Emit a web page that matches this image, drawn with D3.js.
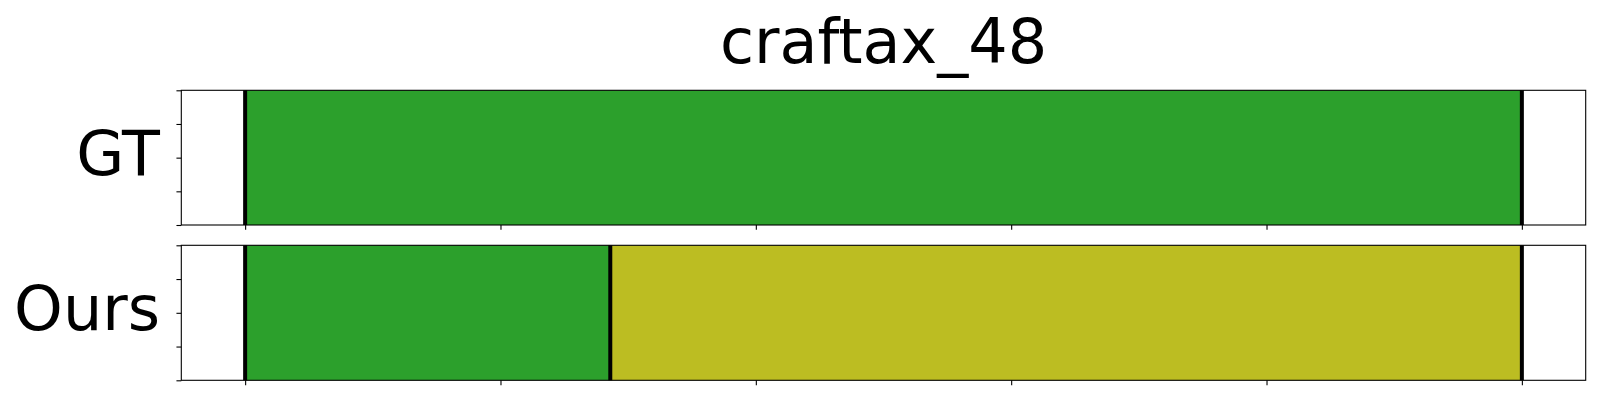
<!DOCTYPE html>
<html>
<head>
<meta charset="utf-8">
<script src="https://cdn.jsdelivr.net/npm/d3@7"></script>
<style>
  html, body { margin: 0; padding: 0; background: #fff; }
  svg { display: block; }
  text { font-family: "DejaVu Sans", sans-serif; }
</style>
</head>
<body>
<svg id="chart" width="1600" height="400"></svg>
<script>
// ---- data ----
const title = "craftax_48";
const rowLabels = ["GT", "Ours"];
// normalized segment boundaries along the episode (0..1)
const gtBounds = [0, 1];
const gtColors = ["#2ca02c"];
const oursBounds = [0, 0.286, 1];
const oursColors = ["#2ca02c", "#bcbd22"];
const xTickValues = [0, 0.2, 0.4, 0.6, 0.8, 1.0];
const yTickValues = [0, 0.25, 0.5, 0.75, 1.0];

const rows = [
  { label: rowLabels[0], bounds: gtBounds, colors: gtColors },
  { label: rowLabels[1], bounds: oursBounds, colors: oursColors }
];

const svg = d3.select("#chart");
const left = 181.3, right = 1585.7;
const panels = [ { top: 90.3, bottom: 225 }, { top: 245.3, bottom: 380.3 } ];

const x = d3.scaleLinear().domain([-0.05, 1.05]).range([left, right]);

svg.append("text")
  .attr("x", (left + right) / 2)
  .attr("y", 63)
  .attr("text-anchor", "middle")
  .attr("font-size", "62px")
  .attr("fill", "#000")
  .text(title);

rows.forEach((row, i) => {
  const p = panels[i];
  const y = d3.scaleLinear().domain([0, 1]).range([p.bottom, p.top]);
  const g = svg.append("g");

  const segs = row.colors.map((c, k) => ({ s: row.bounds[k], e: row.bounds[k + 1], c }));
  g.selectAll("rect.seg").data(segs).enter().append("rect")
    .attr("class", "seg")
    .attr("x", d => x(d.s))
    .attr("width", d => x(d.e) - x(d.s))
    .attr("y", y(1))
    .attr("height", y(0) - y(1))
    .attr("fill", d => d.c);

  g.selectAll("line.bnd").data(row.bounds).enter().append("line")
    .attr("class", "bnd")
    .attr("x1", d => x(d)).attr("x2", d => x(d))
    .attr("y1", y(1)).attr("y2", y(0))
    .attr("stroke", "#000")
    .attr("stroke-width", 4);

  // axes
  const xAxis = d3.axisBottom(x).tickValues(xTickValues).tickFormat("").tickSize(4.86).tickSizeOuter(0);
  const ax = g.append("g").attr("transform", `translate(0,${p.bottom})`).call(xAxis);
  const yAxis = d3.axisLeft(y).tickValues(yTickValues).tickFormat("").tickSize(4.86).tickSizeOuter(0);
  const ay = g.append("g").attr("transform", `translate(${left},0)`).call(yAxis);
  [ax, ay].forEach(a => {
    a.select(".domain").remove();
    a.selectAll(".tick line").attr("stroke", "#000").attr("stroke-width", 1.1);
  });

  // spines
  g.append("rect")
    .attr("x", left).attr("y", p.top)
    .attr("width", right - left).attr("height", p.bottom - p.top)
    .attr("fill", "none").attr("stroke", "#000").attr("stroke-width", 1.1);

  g.append("text")
    .attr("x", 160)
    .attr("y", (p.top + p.bottom) / 2 + 17)
    .attr("text-anchor", "end")
    .attr("font-size", "62px")
    .attr("fill", "#000")
    .text(row.label);
});
</script>
</body>
</html>
